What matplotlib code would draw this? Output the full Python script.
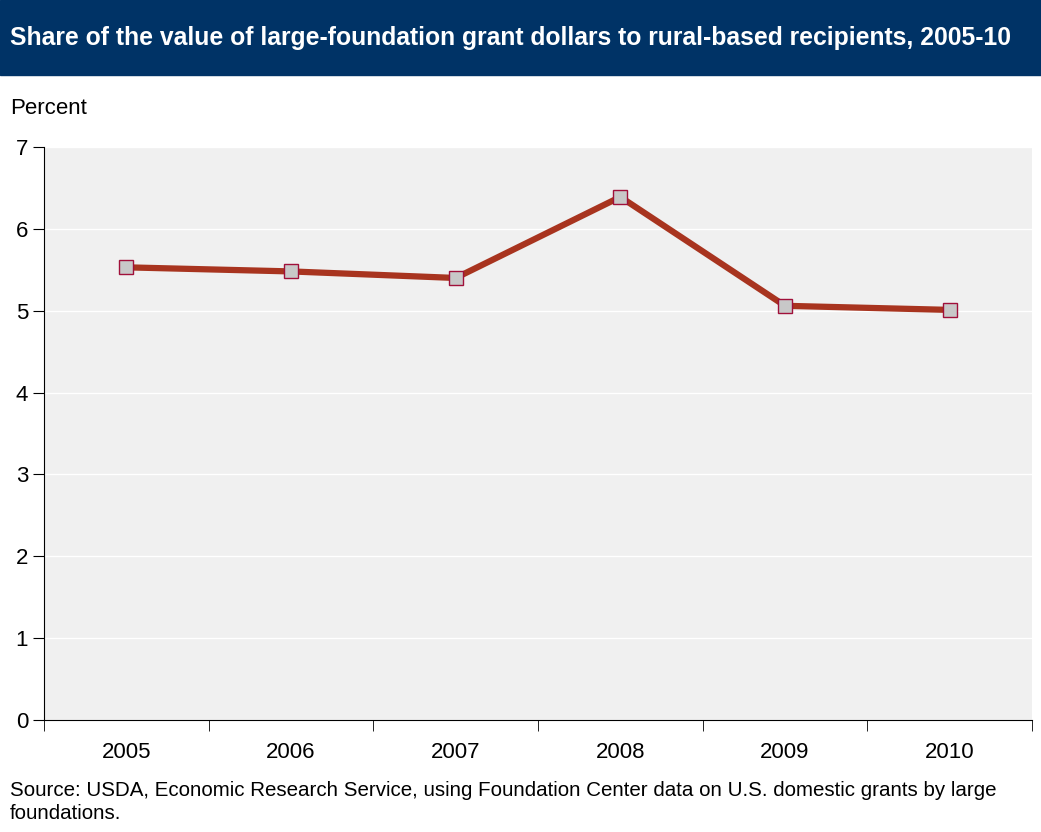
import matplotlib
matplotlib.use("Agg")
import matplotlib.pyplot as plt
import numpy as np

years = ["2005", "2006", "2007", "2008", "2009", "2010"]
values = [5.53, 5.48, 5.40, 6.39, 5.06, 5.01]

plt.rcParams['font.family'] = ['Liberation Sans', 'DejaVu Sans']
fig = plt.figure(figsize=(10.41, 8.32), dpi=100)
fig.patches.append(plt.Rectangle((0, 1 - 75/832), 1, 75/832, transform=fig.transFigure,
                                 color='#003366', zorder=0))
fig.text(10/1041, 1 - 38/832, "Share of the value of large-foundation grant dollars to rural-based recipients, 2005-10",
         color='white', fontsize=17.8, fontweight='bold', va='center', ha='left')
fig.text(10/1041, 1 - 108/832, "Percent", fontsize=16, va='center', ha='left')
fig.text(10/1041, 1 - 802/832, "Source: USDA, Economic Research Service, using Foundation Center data on U.S. domestic grants by large\nfoundations.",
         fontsize=14.8, va='center', ha='left', linespacing=1.25)

ax = fig.add_axes([44/1041, 112/832, 988/1041, 573/832])
ax.set_facecolor('#f0f0f0')
x = np.arange(len(years))
ax.plot(x, values, color='#a8341f', lw=4.5, zorder=3)
ax.plot(x, values, ls='none', marker='s', ms=10, mfc='#c8c8c8', mec='#a0103a', mew=1, zorder=4)
ax.set_xlim(-0.5, 5.5)
ax.set_ylim(0, 7)
ax.set_yticks(range(8))
ax.set_xticks(x)
ax.set_xticklabels(years)
ax.set_xticks(np.arange(-0.5, 6, 1), minor=True)
ax.tick_params(axis='x', which='major', length=0, pad=16, labelsize=16)
ax.tick_params(axis='x', which='minor', length=8)
ax.tick_params(axis='y', length=8, labelsize=16)
ax.grid(axis='y', color='white', lw=1)
ax.set_axisbelow(True)
for s in ['top', 'right']:
    ax.spines[s].set_visible(False)
fig.savefig("out.png", dpi=100)
